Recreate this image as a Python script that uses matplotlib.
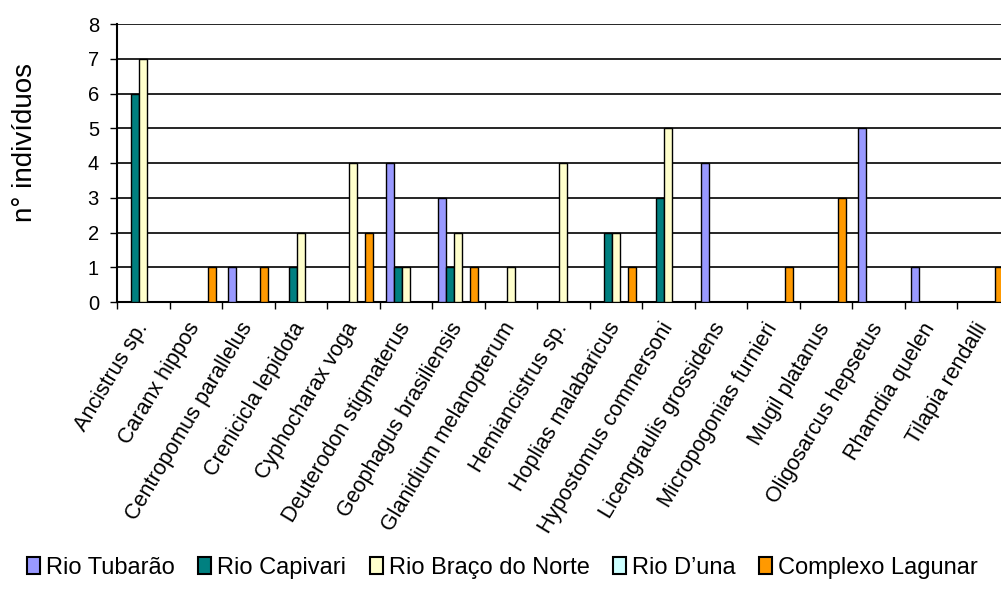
import numpy as np
import matplotlib.pyplot as plt
from matplotlib.patches import Patch

plt.rcParams['font.family'] = ['Liberation Sans', 'DejaVu Sans']

species = ['Ancistrus sp.', 'Caranx hippos', 'Centropomus parallelus',
           'Crenicicla lepidota', 'Cyphocharax voga', 'Deuterodon stigmaterus',
           'Geophagus brasiliensis', 'Glanidium melanopterum', 'Hemiancistrus sp.',
           'Hoplias malabaricus', 'Hypostomus commersoni', 'Licengraulis grossidens',
           'Micropogonias furnieri', 'Mugil platanus', 'Oligosarcus hepsetus',
           'Rhamdia quelen', 'Tilapia rendalli']

tubarao = [0, 0, 1, 0, 0, 4, 3, 0, 0, 0, 0, 4, 0, 0, 5, 1, 0]
capivari = [6, 0, 0, 1, 0, 1, 1, 0, 0, 2, 3, 0, 0, 0, 0, 0, 0]
braco_norte = [7, 0, 0, 2, 4, 1, 2, 1, 4, 2, 5, 0, 0, 0, 0, 0, 0]
duna = [0, 0, 0, 0, 0, 0, 0, 0, 0, 0, 0, 0, 0, 0, 0, 0, 0]
lagunar = [0, 1, 1, 0, 2, 0, 1, 0, 0, 1, 0, 0, 1, 3, 0, 0, 1]

series = [('Rio Tubarão', tubarao, '#9999FF'),
          ('Rio Capivari', capivari, '#008080'),
          ('Rio Braço do Norte', braco_norte, '#FFFFCC'),
          ('Rio D\u2019una', duna, '#CCFFFF'),
          ('Complexo Lagunar', lagunar, '#FF9900')]

fig = plt.figure(figsize=(10.01, 5.94), dpi=100)
# axes run a bit past the right edge of the figure
ax = fig.add_axes([117/1001, 1 - 302/594, 892.5/1001, 278/594])

x = np.arange(len(species))
w = 1 / 6.5
for i, (name, vals, col) in enumerate(series):
    ax.bar(x + (i - 2) * w, vals, w, color=col, edgecolor='black',
           linewidth=1, zorder=3)

ax.set_xlim(-0.5, len(species) - 0.5)
ax.set_ylim(0, 8)
ax.set_yticks(range(0, 9))
ax.yaxis.grid(True, color='black', linewidth=1.2, zorder=0)
ax.tick_params(axis='y', labelsize=14.5, length=5, width=1, direction='out', pad=8)

# tick marks between categories, labels at the centres
ax.set_xticks(np.arange(-0.5, len(species)))
ax.set_xticklabels([])
ax.tick_params(axis='x', which='major', length=5, width=1, direction='out')
ax.set_xticks(x, minor=True)
ax.set_xticklabels(species, minor=True, rotation=59, ha='right', va='center',
                   rotation_mode='anchor', fontsize=15.5)
ax.tick_params(axis='x', which='minor', length=0, pad=16)

for s in ['top', 'right']:
    ax.spines[s].set_visible(False)
ax.spines['left'].set_linewidth(1.5)
ax.spines['bottom'].set_linewidth(1.5)

fig.text(0.025, 1 - 143/594, 'n° indivíduos', rotation=90, ha='center',
         va='center', fontsize=20)

handles = [Patch(facecolor=c, edgecolor='black', linewidth=1.5) for _, _, c in series]
fig.legend(handles, [n for n, _, _ in series], loc='center',
           bbox_to_anchor=(0.502, 1 - 568/594), ncol=5, frameon=False,
           fontsize=17, handlelength=0.55, handleheight=0.7,
           handletextpad=0.25, columnspacing=1.0)

fig.savefig('out.png', dpi=100)
